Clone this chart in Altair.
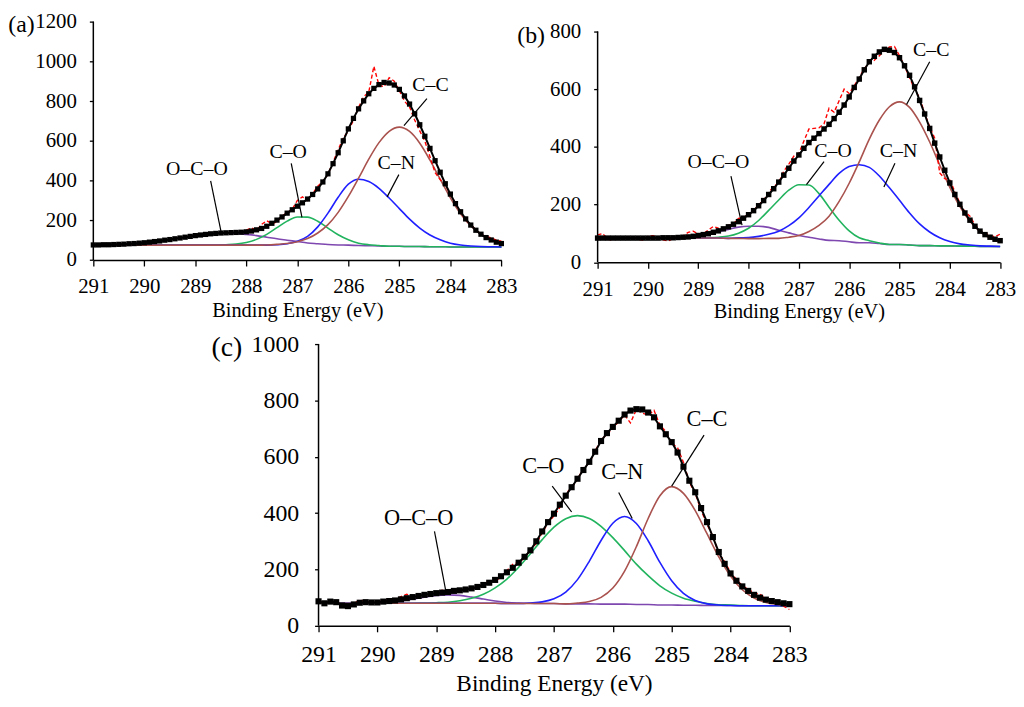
import altair as alt
import pandas as pd

FONT = "Liberation Serif"

# binding energy grid of the measured points (0.1 eV) and of the fitted peaks (0.2 eV)
energy = [round(291.0 - 0.1 * i, 1) for i in range(81)]
energy_fit = energy[::2]

peaks = ["O–C–O", "C–O", "C–N", "C–C"]
peak_colors = ["#7e48b0", "#22b35e", "#1f1fff", "#a9524e"]

# ----------------------------------------
# PANEL (a)
# ----------------------------------------
a_envelope = [76, 76, 77, 77, 78, 79, 80, 82, 83, 85,
              87, 90, 93, 96, 100, 103, 107, 111, 115, 119,
              123, 126, 129, 132, 134, 136, 137, 138, 139, 140,
              142, 146, 152, 159, 170, 185, 201, 217, 236, 253,
              271, 288, 307, 330, 358, 393, 434, 485, 540, 600,
              660, 713, 761, 801, 837, 864, 883, 894, 891, 881,
              859, 826, 785, 736, 681, 623, 562, 500, 442, 384,
              332, 284, 243, 207, 176, 150, 130, 113, 101, 90,
              83]
a_raw = [76, 76, 77, 78, 78, 80, 81, 84, 90, 88,
         86, 92, 98, 93, 99, 104, 106, 112, 116, 121,
         124, 125, 130, 131, 135, 134, 138, 137, 140, 139,
         150, 162, 150, 180, 198, 182, 192, 222, 238, 256,
         300, 318, 300, 335, 372, 395, 432, 492, 555, 615,
         648, 705, 768, 822, 845, 975, 880, 872, 918, 900,
         852, 800, 770, 705, 650, 598, 520, 440, 405, 378,
         330, 286, 240, 202, 180, 152, 130, 118, 112, 100,
         95]
a_oco = [76, 77, 78, 80, 83, 87, 93, 100, 107, 115,
         123, 129, 134, 135, 134, 129, 123, 115, 107, 100,
         93, 86, 82, 78, 76, 75, 73, 72, 71, 69,
         69, 68, 68, 67, 67, 66, 66, 66, 66, 66, 66]
a_co = [75, 75, 75, 75, 75, 75, 75, 75, 75, 75,
        75, 75, 75, 77, 80, 88, 104, 129, 163, 196,
        217, 216, 195, 161, 127, 102, 85, 77, 73, 69,
        69, 68, 68, 67, 67, 66, 66, 66, 66, 66, 66]
a_cn = [75, 75, 75, 75, 75, 75, 75, 75, 75, 75,
        75, 75, 75, 75, 75, 75, 75, 75, 77, 82,
        94, 119, 167, 236, 316, 382, 407, 395, 361, 312,
        259, 206, 161, 126, 102, 85, 76, 71, 68, 67, 66]
a_cc = [75, 75, 75, 75, 75, 75, 75, 75, 75, 75,
        75, 75, 75, 75, 75, 75, 75, 76, 79, 83,
        92, 108, 136, 178, 240, 320, 412, 508, 591, 648,
        669, 647, 588, 503, 407, 313, 233, 171, 128, 100, 83]
a_label_x = [288.97, 287.18, 285.06, 284.39]
a_label_y = [460, 544, 490, 879]
a_lead_x1 = [288.7, 287.12, 285.01, 284.46]
a_lead_y1 = [398, 486, 430, 813]
a_lead_x2 = [288.49, 286.91, 285.24, 284.91]
a_lead_y2 = [135, 215, 318, 677]

# ----------------------------------------
# PANEL (b)
# ----------------------------------------
b_envelope = [84, 84, 84, 84, 84, 84, 84, 84, 84, 84,
              84, 84, 84, 85, 85, 85, 86, 87, 88, 90,
              93, 96, 99, 104, 109, 116, 123, 132, 141, 153,
              165, 179, 196, 214, 235, 255, 278, 302, 326, 351,
              372, 395, 415, 430, 446, 462, 478, 498, 520, 545,
              573, 606, 635, 667, 695, 714, 729, 738, 735, 727,
              709, 681, 648, 608, 561, 514, 464, 413, 365, 319,
              275, 235, 201, 171, 146, 125, 108, 96, 87, 80,
              75]
b_raw = [95, 100, 80, 77, 84, 86, 82, 84, 80, 77,
         90, 92, 88, 78, 74, 82, 86, 92, 104, 108,
         98, 99, 112, 124, 118, 116, 128, 134, 152, 156,
         166, 178, 200, 215, 244, 262, 276, 316, 340, 368,
         378, 420, 462, 464, 466, 480, 534, 520, 560, 600,
         585, 612, 640, 672, 690, 700, 716, 735, 746, 748,
         716, 680, 640, 600, 570, 516, 470, 430, 310, 290,
         285, 245, 205, 175, 160, 130, 112, 100, 94, 88,
         98]
b_oco = [84, 84, 84, 84, 84, 84, 84, 85, 86, 88,
         92, 98, 106, 114, 122, 125, 125, 121, 111, 102,
         93, 87, 81, 76, 75, 71, 68, 68, 65, 62,
         62, 60, 58, 58, 57, 57, 56, 56, 55, 55, 55]
b_co = [84, 84, 84, 84, 84, 84, 84, 84, 84, 84,
        84, 85, 87, 91, 101, 118, 145, 180, 216, 250,
        269, 268, 238, 191, 146, 109, 85, 75, 67, 62,
        62, 60, 58, 58, 57, 57, 56, 56, 55, 55, 55]
b_cn = [84, 84, 84, 84, 84, 84, 84, 84, 84, 84,
        84, 84, 84, 83, 85, 86, 90, 97, 108, 127,
        154, 190, 230, 270, 308, 332, 338, 329, 299, 258,
        215, 171, 133, 105, 85, 72, 64, 60, 57, 56, 55]
b_cc = [84, 84, 84, 84, 84, 84, 84, 84, 84, 84,
        84, 84, 84, 83, 83, 82, 82, 83, 83, 87,
        93, 107, 128, 160, 211, 274, 348, 427, 493, 539,
        556, 537, 486, 417, 337, 260, 193, 142, 106, 83, 69]
b_label_x = [288.6, 286.32, 285.02, 284.37]
b_label_y = [346, 384, 384, 734]
b_lead_x1 = [288.35, 286.5, 285.09, 284.4]
b_lead_y1 = [299, 349, 343, 695]
b_lead_x2 = [288.13, 286.85, 285.31, 284.86]
b_lead_y2 = [129, 269, 261, 547]

# ----------------------------------------
# PANEL (c)
# ----------------------------------------
c_envelope = [87, 80, 86, 84, 72, 70, 76, 82, 84, 83,
              83, 86, 88, 90, 94, 98, 102, 106, 110, 113,
              116, 118, 120, 124, 126, 129, 133, 138, 145, 153,
              163, 176, 190, 206, 224, 245, 268, 300, 335, 368,
              398, 430, 462, 492, 522, 553, 582, 618, 656, 684,
              706, 728, 750, 764, 769, 768, 757, 740, 708, 680,
              652, 615, 565, 515, 474, 418, 368, 315, 262, 220,
              186, 160, 140, 124, 110, 100, 93, 88, 84, 80,
              77]
c_raw = [85, 82, 86, 85, 74, 72, 78, 92, 86, 84,
         82, 90, 94, 92, 104, 112, 100, 104, 108, 114,
         118, 126, 120, 122, 128, 126, 132, 136, 150, 158,
         160, 172, 196, 218, 226, 240, 272, 292, 330, 365,
         390, 420, 470, 490, 520, 560, 578, 620, 660, 680,
         700, 725, 748, 720, 768, 755, 748, 765, 712, 690,
         648, 632, 580, 510, 470, 410, 360, 318, 256, 228,
         190, 165, 142, 130, 116, 112, 98, 90, 85, 70,
         58]
c_oco = [80, 80, 80, 80, 81, 82, 84, 88, 95, 102,
         108, 110, 108, 102, 95, 88, 83, 81, 80, 79,
         79, 78, 78, 78, 77, 77, 77, 76, 76, 74,
         74, 73, 73, 72, 72, 72, 71, 71, 71, 71, 71]
c_co = [80, 80, 80, 80, 80, 80, 80, 80, 80, 81,
        82, 84, 89, 98, 112, 135, 166, 208, 256, 306,
        350, 380, 391, 381, 353, 313, 267, 219, 178, 142,
        116, 98, 87, 79, 75, 74, 72, 71, 71, 71, 71]
c_cn = [80, 80, 80, 80, 80, 80, 80, 80, 80, 80,
        80, 80, 80, 80, 80, 80, 79, 79, 81, 85,
        96, 120, 164, 229, 303, 364, 388, 363, 302, 225,
        160, 115, 90, 78, 74, 72, 71, 71, 71, 71, 71]
c_cc = [80, 80, 80, 80, 80, 80, 80, 80, 80, 80,
        80, 80, 80, 80, 80, 80, 79, 79, 79, 79,
        79, 78, 81, 86, 101, 134, 194, 281, 381, 462,
        494, 470, 409, 327, 245, 177, 128, 99, 83, 76, 73]
c_label_x = [289.3, 287.18, 285.84, 284.4]
c_label_y = [384, 568, 545, 735]
c_lead_x1 = [289.03, 287.03, 285.9, 284.45]
c_lead_y1 = [335, 496, 473, 677]
c_lead_x2 = [288.83, 286.7, 285.67, 285.0]
c_lead_y2 = [115, 404, 381, 496]


def make_panel(tag, envelope, raw, fits, lab_x, lab_y, lead, style):
    fs = style["fs"]

    x = alt.X("energy:Q",
              scale=alt.Scale(domain=[283, 291], reverse=True, nice=False, zero=False),
              axis=alt.Axis(values=list(range(283, 292)), format="d",
                            title="Binding Energy (eV)", titleFontSize=style["tfs_axis"],
                            titleY=style["title_y"], titleBaseline="top",
                            labelFontSize=fs, labelPadding=style["xpad"],
                            labelFlush=False, tickSize=6))
    y = alt.Y("value:Q",
              scale=alt.Scale(domain=[0, style["ydom"]], nice=False),
              axis=alt.Axis(values=style["yticks"], format="d", title=None,
                            labelFontSize=fs, labelPadding=style["ypad"],
                            tickSize=4, domain=False))

    fit_rows = []
    for name, vals in zip(peaks, fits):
        for e, v in zip(energy_fit, vals):
            fit_rows.append({"energy": e, "value": v, "peak": name})
    df_fit = pd.DataFrame(fit_rows)
    df_env = pd.DataFrame({"energy": energy, "value": envelope})
    df_raw = pd.DataFrame({"energy": energy, "value": raw})
    df_lab = pd.DataFrame({"energy": lab_x, "value": lab_y, "label": peaks})
    df_lead = pd.DataFrame({"energy": lead[0], "value": lead[1],
                            "energy2": lead[2], "value2": lead[3]})
    df_yaxis = pd.DataFrame({"energy": [291], "value": [0], "value2": [style["ytop"]]})

    fits_layer = alt.Chart(df_fit).mark_line(strokeWidth=1.6, interpolate="monotone").encode(
        x=x, y=y,
        color=alt.Color("peak:N", scale=alt.Scale(domain=peaks, range=peak_colors), legend=None),
        detail="peak:N"
    )
    raw_layer = alt.Chart(df_raw).mark_line(color="#ff0000", strokeWidth=1.4,
                                           strokeDash=[4, 2.5]).encode(x=x, y=y)
    env_line = alt.Chart(df_env).mark_line(color="black", strokeWidth=2).encode(x=x, y=y)
    env_pts = alt.Chart(df_env).mark_square(color="black", opacity=1,
                                            size=style["marker"]).encode(x=x, y=y)
    yaxis_line = alt.Chart(df_yaxis).mark_rule(color="black", strokeWidth=1.5).encode(
        x=x, y=y, y2="value2:Q")
    leaders = alt.Chart(df_lead).mark_rule(color="black", strokeWidth=1.2).encode(
        x=x, y=y, x2="energy2:Q", y2="value2:Q")
    labels = alt.Chart(df_lab).mark_text(font=FONT, fontSize=style["lfs"], color="black",
                                         align="center", baseline="middle").encode(
        x=x, y=y, text="label:N")
    tag_text = alt.Chart(pd.DataFrame({"t": [tag]})).mark_text(
        font=FONT, fontSize=style["tfs"], color="black", align="left", baseline="top"
    ).encode(x=alt.value(style["tag_x"]), y=alt.value(style["tag_y"]), text="t:N")

    return alt.layer(fits_layer, raw_layer, env_line, env_pts, yaxis_line,
                     leaders, labels, tag_text).properties(
        width=style["w"], height=style["h"])


style_a = {"fs": 21, "tfs_axis": 20.5, "lfs": 20, "tfs": 24, "w": 411.3, "h": 240.3,
           "ydom": 1200, "ytop": 1200, "yticks": [0, 200, 400, 600, 800, 1000, 1200],
           "xpad": 10, "ypad": 13, "title_y": 40.5, "marker": 28,
           "tag_x": -85.7, "tag_y": -8.3}
style_b = {"fs": 21, "tfs_axis": 20.5, "lfs": 20, "tfs": 24, "w": 405.7, "h": 242.6,
           "ydom": 834, "ytop": 800, "yticks": [0, 200, 400, 600, 800],
           "xpad": 10, "ypad": 13, "title_y": 39.5, "marker": 30,
           "tag_x": -81, "tag_y": 2.8}
style_c = {"fs": 24, "tfs_axis": 23.5, "lfs": 22.5, "tfs": 28, "w": 474.6, "h": 284,
           "ydom": 1000, "ytop": 1000, "yticks": [0, 200, 400, 600, 800, 1000],
           "xpad": 11.3, "ypad": 16, "title_y": 46, "marker": 38,
           "tag_x": -108, "tag_y": -10.4}

panel_a = make_panel("(a)", a_envelope, a_raw, [a_oco, a_co, a_cn, a_cc],
                     a_label_x, a_label_y, [a_lead_x1, a_lead_y1, a_lead_x2, a_lead_y2], style_a)
panel_b = make_panel("(b)", b_envelope, b_raw, [b_oco, b_co, b_cn, b_cc],
                     b_label_x, b_label_y, [b_lead_x1, b_lead_y1, b_lead_x2, b_lead_y2], style_b)
panel_c = make_panel("(c)", c_envelope, c_raw, [c_oco, c_co, c_cn, c_cc],
                     c_label_x, c_label_y, [c_lead_x1, c_lead_y1, c_lead_x2, c_lead_y2], style_c)

# invisible block that pushes panel (c) to the middle of the page
spacer = alt.Chart(pd.DataFrame({"v": [0]})).mark_point(opacity=0).encode(
    x=alt.value(100), y=alt.value(5)).properties(width=227, height=10)

top_row = alt.hconcat(panel_a, panel_b, spacing=96.3, bounds="flush")
bottom_row = alt.hconcat(spacer, panel_c, spacing=0, bounds="flush")

chart = alt.vconcat(top_row, bottom_row, spacing=10).properties(
    padding=0
).configure_view(
    strokeWidth=0
).configure_axis(
    labelFont=FONT, titleFont=FONT, titleFontWeight="normal",
    labelColor="black", titleColor="black", domainColor="black", tickColor="black",
    domainWidth=1.5, tickWidth=1.3, grid=False
)

chart.save("out.html", embed_options={"renderer": "svg", "actions": False})
